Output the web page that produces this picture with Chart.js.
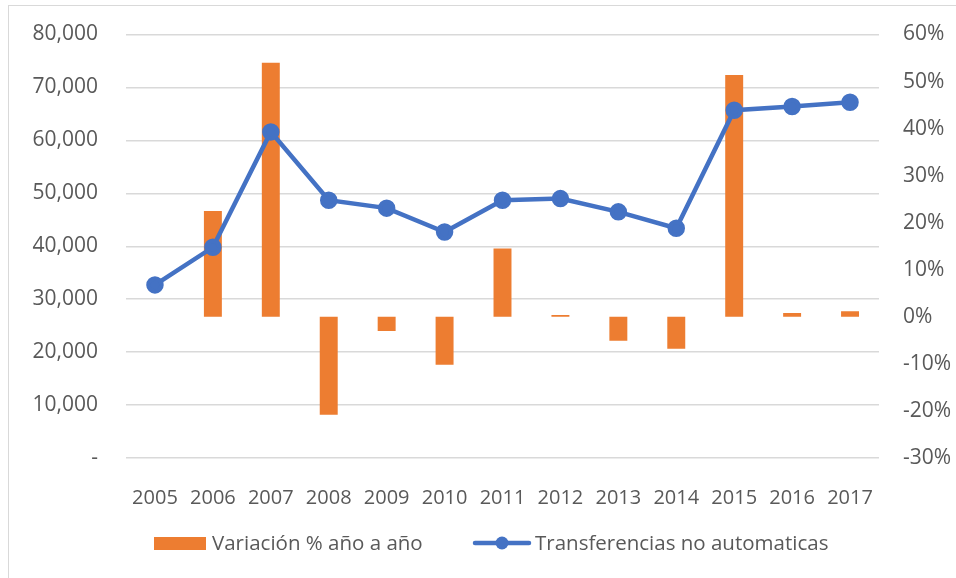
<!DOCTYPE html>
<html>
<head>
<meta charset="utf-8">
<script src="https://cdn.jsdelivr.net/npm/chart.js@4.4.0/dist/chart.umd.min.js"></script>
<style>
  html, body { margin: 0; padding: 0; background: #fff; }
  #frame { position: absolute; left: 8px; top: 5px; width: 960px; height: 590px;
           border-left: 1.5px solid #d9d9d9; border-top: 1.5px solid #d9d9d9; }
  #wrap { position: absolute; left: 0; top: 0; width: 956px; height: 578px; }
</style>
</head>
<body>
<div id="frame"></div>
<div id="wrap"><canvas id="combo" width="956" height="578"></canvas></div>
<script>
var years = ["2005","2006","2007","2008","2009","2010","2011","2012","2013","2014","2015","2016","2017"];
var transferencias = [32700, 39800, 61600, 48700, 47200, 42700, 48700, 49000, 46500, 43400, 65700, 66400, 67200];
var variacion = [null, 22.5, 54.0, -20.8, -3.0, -10.2, 14.5, 0.4, -5.1, -6.8, 51.4, 0.8, 1.2];
var leftTicks = [0, 10000, 20000, 30000, 40000, 50000, 60000, 70000, 80000];
var rightTicks = [-30, -20, -10, 0, 10, 20, 30, 40, 50, 60];

var orange = "#ED7D31", blue = "#4472C4", textGray = "#595959";
var tickFont = { family: "'Open Sans'", size: 21 };
var xFont = { family: "'Open Sans'", size: 20 };

// legend drawn by hand so the line+dot marker looks like Excel's
var legendPlugin = {
  id: "excelLegend",
  afterDraw: function(chart){
    var ctx = chart.ctx, y = 543;
    ctx.save();
    ctx.fillStyle = orange;
    ctx.fillRect(154, 537, 52, 13);
    ctx.strokeStyle = blue; ctx.lineWidth = 4.5; ctx.lineCap = "round";
    ctx.beginPath(); ctx.moveTo(475, y); ctx.lineTo(529, y); ctx.stroke();
    ctx.fillStyle = blue;
    ctx.beginPath(); ctx.arc(502, y, 6.5, 0, Math.PI*2); ctx.fill();
    ctx.fillStyle = textGray;
    ctx.font = "20.5px 'Open Sans'";
    ctx.textBaseline = "middle";
    ctx.fillText(chart.data.datasets[1].label, 212, y + 1);
    ctx.fillText(chart.data.datasets[0].label, 535, y + 1);
    ctx.restore();
  }
};

// fixed axis widths; drop the label overflow so layout padding sets the top
function fixWidth(w){
  return function(s){ s.width = w; s.paddingTop = 0; s.paddingBottom = 0; };
}

var chart = new Chart(document.getElementById("combo"), {
  data: {
    labels: years,
    datasets: [
      {
        type: "line",
        label: "Transferencias no automaticas",
        data: transferencias,
        yAxisID: "y",
        borderColor: blue,
        backgroundColor: blue,
        borderWidth: 4.5,
        pointRadius: 6.5,
        pointHoverRadius: 6.5,
        tension: 0,
        order: 0
      },
      {
        type: "bar",
        label: "Variación % año a año",
        data: variacion,
        yAxisID: "y1",
        backgroundColor: orange,
        categoryPercentage: 1,
        barPercentage: 0.31,
        order: 1
      }
    ]
  },
  options: {
    responsive: false,
    animation: false,
    layout: { padding: { top: 34.5, left: 0, right: 0, bottom: 0 } },
    plugins: { legend: { display: false }, tooltip: { enabled: false } },
    scales: {
      x: {
        offset: true,
        grid: { display: false },
        border: { display: false },
        ticks: { color: textGray, font: xFont, padding: 20, maxRotation: 0 },
        afterFit: function(s){ s.height = 120; }
      },
      y: {
        position: "left",
        min: 0, max: 80000,
        afterBuildTicks: function(s){ s.ticks = leftTicks.map(function(v){ return { value: v }; }); },
        grid: { color: "#d9d9d9", lineWidth: 1.5, drawTicks: false },
        border: { display: false },
        ticks: {
          color: textGray, font: tickFont, padding: 28,
          callback: function(v){ return v === 0 ? "-" : v.toLocaleString("en-US"); }
        },
        afterFit: fixWidth(126)
      },
      y1: {
        position: "right",
        min: -30, max: 60,
        afterBuildTicks: function(s){ s.ticks = rightTicks.map(function(v){ return { value: v }; }); },
        grid: { display: false, drawTicks: false },
        border: { display: false },
        ticks: {
          color: textGray, font: tickFont, padding: 24,
          callback: function(v){ return v + "%"; }
        },
        afterFit: fixWidth(77)
      }
    }
  },
  plugins: [legendPlugin]
});
</script>
</body>
</html>
